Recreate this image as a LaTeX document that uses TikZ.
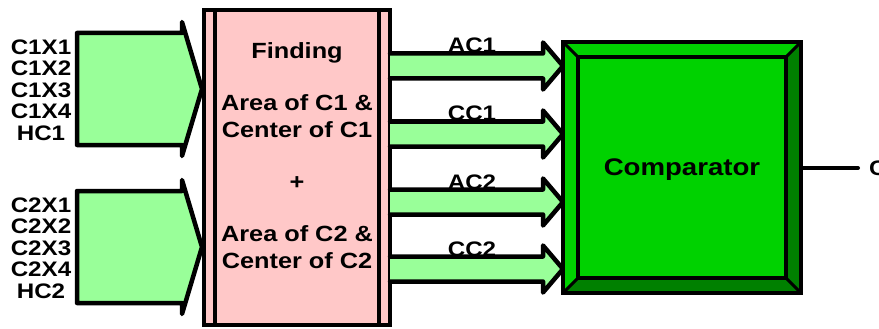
\documentclass[tikz,border=0pt]{standalone}
\usepackage{fontspec}
\setmainfont{Liberation Sans}[FakeStretch=1.15]
\usetikzlibrary{positioning}

\definecolor{pinkfill}{RGB}{255,200,200}
\definecolor{litegreen}{RGB}{153,255,153}
\definecolor{compgreen}{RGB}{0,210,0}
\definecolor{bevelgreen}{RGB}{0,128,0}

\tikzset{
  lab/.style={font=\bfseries\fontsize{21}{21.6}\selectfont, align=center},
  fatarrow/.style={draw, line width=4.5pt, fill=litegreen, line join=round, line cap=round},
  slimarrow/.style={draw, line width=4.5pt, fill=litegreen, line join=round, line cap=round},
  finderbox/.style={draw, line width=4.5pt, fill=pinkfill, outer sep=0pt,
    minimum width=186pt, minimum height=315pt},
  compbox/.style={draw, line width=4.5pt, fill=compgreen, outer sep=0pt,
    minimum width=238pt, minimum height=251pt},
  compinner/.style={draw, line width=4.5pt, outer sep=0pt, text depth=0pt,
    minimum width=208pt, minimum height=221pt,
    font=\bfseries\fontsize{24}{26}\selectfont},
  wire/.style={line width=4pt, line cap=round}
}

\begin{document}
\begin{tikzpicture}[x=1pt, y=-1pt]
\useasboundingbox (0,0) rectangle (879,329);

% input bundles
\foreach \y in {89,247}
  \draw[fatarrow] (77,\y-56) -- (182,\y-56) -- (182,\y-67) -- (202,\y)
    -- (182,\y+67) -- (182,\y+56) -- (77,\y+56) -- cycle;
\node[lab] (c1in) at (41,90) {C1X1\\C1X2\\C1X3\\C1X4\\HC1};
\node[lab] (c2in) at (41,248) {C2X1\\C2X2\\C2X3\\C2X4\\HC2};

% finding block
\node[finderbox] (finder) at (297,167.5) {};
\draw[line width=4pt] ([xshift=11pt]finder.north west) -- ([xshift=11pt]finder.south west);
\draw[line width=4pt] ([xshift=-11pt]finder.north east) -- ([xshift=-11pt]finder.south east);
\node[lab, font=\bfseries\fontsize{22}{27}\selectfont] (findtext) at (297,156)
  {Finding\\[25pt] Area of C1 \&\\ Center of C1\\[25pt] +\\[25pt] Area of C2 \&\\ Center of C2};

% comparator
\node[compbox, path picture={
    \fill[bevelgreen] (path picture bounding box.north east)
      -- (path picture bounding box.south east)
      -- (path picture bounding box.south west)
      -- ([shift={(15,-15)}]path picture bounding box.south west)
      -- ([shift={(-15,-15)}]path picture bounding box.south east)
      -- ([shift={(-15,15)}]path picture bounding box.north east) -- cycle;
    \draw[line width=3pt] (path picture bounding box.north west) -- ++(15,15);
    \draw[line width=3pt] (path picture bounding box.north east) -- ++(-15,15);
    \draw[line width=3pt] (path picture bounding box.south west) -- ++(15,-15);
    \draw[line width=3pt] (path picture bounding box.south east) -- ++(-15,-15);
  }] (comp) at (682,167.5) {};
\node[compinner] (compin) at (682,167.5) {Comparator};

% results
\foreach \y/\res in {66/AC1,134/CC1,202/AC2,269/CC2}{
  \node[lab, anchor=base] (\res) at (472,\y-13) {\res};
  \draw[slimarrow] (finder.east |- 0,\y-12.5) -- (543,\y-12.5) -- (543,\y-23.5)
    -- (comp.west |- 0,\y) -- (543,\y+23.5) -- (543,\y+12.5) -- (finder.east |- 0,\y+12.5);
}

% output
\coordinate (outend) at (858,168);
\draw[wire] (comp.east |- outend) -- (outend);
\node[lab, inner sep=0pt, anchor=west, right=11pt of outend] (outlab) {C};
\end{tikzpicture}
\end{document}
